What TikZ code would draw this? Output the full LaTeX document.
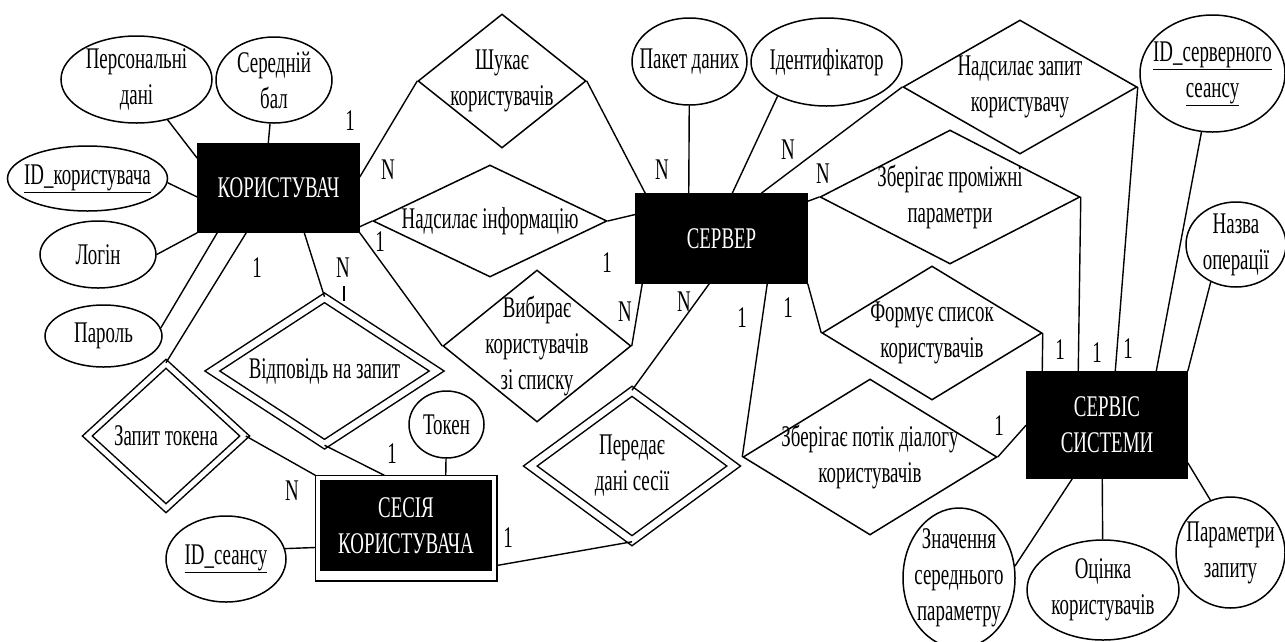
\documentclass[tikz,border=0pt]{standalone}
\usepackage{fontspec}
\setmainfont{Liberation Serif}[FakeStretch=0.63]
\usepackage{tikz}
\usetikzlibrary{shapes}
\usetikzlibrary{calc}

\begin{document}
\begin{tikzpicture}[x=1pt,y=-1pt,line width=1.5pt,font=\fontsize{30}{36}\selectfont]
	\useasboundingbox (0,0) rectangle (1285,641);
			\begin{scope}[every node/.style={rectangle,draw,fill=black,text=white,align=center,inner sep=0pt}]
		    \node[minimum width=161pt,minimum height=88pt] (k) at (278.5,188) {КОРИСТУВАЧ};
		    \node[minimum width=171pt,minimum height=89pt] (s) at (721.5,238.5) {СЕРВЕР};
		    \node[minimum width=160pt,minimum height=106pt] (ss) at (1107,425) {СЕРВІС\\СИСТЕМИ};
		    \node[minimum width=170pt,minimum height=89pt] (ses) at (406,525.5) {СЕСІЯ\\КОРИСТУВАЧА};
			\end{scope}
			\coordinate (sesnw) at ($(ses.north west)+(-5,-5)$);
			\coordinate (sesse) at ($(ses.south east)+(5,10)$);
			\draw (sesnw) rectangle (sesse);
			\begin{scope}[every node/.style={ellipse,draw,fill=white,align=center,inner sep=-10pt}]
		    \node[minimum width=151pt,minimum height=87pt] (pd) at (136.5,79.5) {Персональні\\дані};
		    \node[minimum width=116pt,minimum height=86pt] (sb) at (274,80) {Середній\\бал};
		    \node[minimum width=160pt,minimum height=65pt] (idk) at (87.5,178.5) {\underline{ID\_користувача}};
		    \node[minimum width=116pt,minimum height=67pt] (login) at (98,254.5) {Логін};
		    \node[minimum width=117pt,minimum height=62pt] (par) at (103.5,336) {Пароль};
		    \node[minimum width=120pt,minimum height=86pt] (idsn) at (226,559) {\underline{ID\_сеансу}};
		    \node[minimum width=75pt,minimum height=67pt] (tok) at (446.5,424.5) {Токен};
		    \node[minimum width=115pt,minimum height=87pt] (pak) at (689.5,61.5) {Пакет даних};
		    \node[minimum width=151pt,minimum height=88pt] (idf) at (826.5,62) {Ідентифікатор};
		    \node[minimum width=145pt,minimum height=117pt] (idss) at (1212.5,73.5) {\underline{ID\_серверного}\\\underline{сеансу}};
		    \node[minimum width=100pt,minimum height=85pt] (nop) at (1236,244.5) {Назва\\операції};
		    \node[minimum width=112pt,minimum height=140pt] (zsp) at (959,578) {Значення\\середнього\\параметру};
		    \node[minimum width=152pt,minimum height=100pt] (ok) at (1103,590) {Оцінка\\користувачів};
		    \node[minimum width=109pt,minimum height=111pt] (pz) at (1230.5,552.5) {Параметри\\запиту};
			\end{scope}
			\begin{scope}[every node/.style={diamond,draw,fill=white,align=center,inner sep=-20pt,aspect=1.7}]
		    \node[minimum width=168pt,minimum height=134pt] (shuk) at (502,81) {Шукає\\користувачів};
		    \node[minimum width=234pt,minimum height=112pt] (ni) at (490,221) {Надсилає інформацію};
		    \node[minimum width=188pt,minimum height=152pt] (vyb) at (537,346) {Вибирає\\користувачів\\зі списку};
		    \node[minimum width=234pt,minimum height=134pt] (nzk) at (1020,87) {Надсилає запит\\користувачу};
		    \node[minimum width=260pt,minimum height=134pt] (zpp) at (950,197) {Зберігає проміжні\\параметри};
		    \node[minimum width=220pt,minimum height=134pt] (fs) at (932,333) {Формує список\\користувачів};
		    \node[minimum width=254pt,minimum height=156pt] (zpd) at (870,457) {Зберігає потік діалогу\\користувачів};
		    \node[double,double distance=6.5pt,minimum width=225pt,minimum height=147pt] (vz) at (324.5,371) {Відповідь на запит};
		    \node[double,double distance=5pt,minimum width=158pt,minimum height=145pt] (zt) at (166,436) {Запит токена};
		    \node[double,double distance=6.5pt,minimum width=204pt,minimum height=150pt] (pds) at (632,466) {Передає\\дані сесії};
			\end{scope}
			\coordinate (k-pd) at ($(k.north west)+(0,15)$);
			\coordinate (k-sb) at ($(k.north west)+(71,0)$);
			\coordinate (k-idk) at ($(k.west)+(0,9)$);
			\coordinate (k-par) at ($(k.south west)+(20,0)$);
			\coordinate (k-zt) at ($(k.south west)+(49,0)$);
			\coordinate (k-vz) at ($(k.south west)+(107,0)$);
			\coordinate (k-ni) at ($(k.south east)+(0,-6)$);
			\coordinate (k-shuk) at ($(k.east)+(0,-11)$);
			\coordinate (s-shuk) at ($(s.north west)+(10,0)$);
			\coordinate (s-ni) at ($(s.west)+(0,-24)$);
			\coordinate (s-vyb) at ($(s.south west)+(7,0)$);
			\coordinate (s-pds) at ($(s.south west)+(74,0)$);
			\coordinate (s-pak) at ($(s.north west)+(53.5,0)$);
			\coordinate (s-idf) at ($(s.north west)+(97,0)$);
			\coordinate (s-nzk) at ($(s.north west)+(126,0)$);
			\coordinate (s-zpp) at ($(s.north east)+(0,8)$);
			\coordinate (s-zpd) at ($(s.south west)+(132,0)$);
			\coordinate (ss-nzk) at ($(ss.north west)+(89,0)$);
			\coordinate (ss-zpp) at ($(ss.north west)+(52,0)$);
			\coordinate (ss-fs) at ($(ss.north west)+(16,0)$);
			\coordinate (ss-idss) at ($(ss.north west)+(130,0)$);
			\coordinate (ss-zsp) at ($(ss.south west)+(46,0)$);
			\coordinate (ss-ok) at ($(ss.south west)+(76,0)$);
			\coordinate (ss-pz) at ($(ss.south east)+(0,-16)$);
			\coordinate (ses-vz) at ($(sesnw)+(69,0)$);
			\coordinate (ses-tok) at ($(sesnw)+(130.5,0)$);
			\coordinate (ses-idsn) at ($(ses.west)+(-5,22)$);
			\coordinate (ses-pds) at ($(ses.east)+(5,40)$);
			\coordinate (tick) at (344,286);
			\begin{scope}[every edge/.style={draw=black,line width=1.4pt}]
		    \path (pd) edge (k-pd);
		    \path (sb) edge (k-sb);
		    \path (idk.-3) edge (k-idk);
		    \path (login.east) edge (k.south west);
		    \path (par.8) edge (k-par);
		    \path (zt.north) edge (k-zt);
		    \path (vz.north) edge (k-vz);
		    \path (vyb.west) edge (k.south east);
		    \path (ni.west) edge (k-ni);
		    \path (shuk.west) edge (k-shuk);
		    \path (shuk.east) edge (s-shuk);
		    \path (ni.east) edge (s-ni);
		    \path (vyb.east) edge (s-vyb);
		    \path (pds.north) edge (s-pds);
		    \path (pak) edge (s-pak);
		    \path (idf.-145) edge (s-idf);
		    \path (nzk.west) edge (s-nzk);
		    \path (zpp.west) edge (s-zpp);
		    \path (fs.west) edge (s.south east);
		    \path (zpd.west) edge (s-zpd);
		    \path (nzk.east) edge (ss-nzk);
		    \path (zpp.east) edge (ss-zpp);
		    \path (fs.east) edge (ss-fs);
		    \path (zpd.east) edge (ss.west);
		    \path (idss) edge (ss-idss);
		    \path (nop.-124) edge (ss.north east);
		    \path (zsp.12) edge (ss-zsp);
		    \path (ok) edge (ss-ok);
		    \path (pz.111) edge (ss-pz);
		    \path (zt.east) edge (sesnw);
		    \path (vz.south) edge (ses-vz);
		    \path (tok) edge (ses-tok);
		    \path (idsn.10) edge (ses-idsn);
		    \path (pds.south) edge (ses-pds);
		    \path (tick) edge ++(0,15);
			\end{scope}
			\begin{scope}[every node/.style={inner sep=0pt}]
		    \foreach \x/\y/\t [count=\i] in {350/121/1,388/170/N,380/242/1,257/268/1,343/268/N,662/170/N,788/150/N,823/174/N,607/263/1,625/312/N,684/302/N,742/318/1,788/308/1,392/454/1,292/491/N,508/538/1,1060/350/1,1097/353/1,1128/349/1,999/426/1}
		    \node (c\i) at (\x,\y) {\t};
			\end{scope}
\end{tikzpicture}
\end{document}
